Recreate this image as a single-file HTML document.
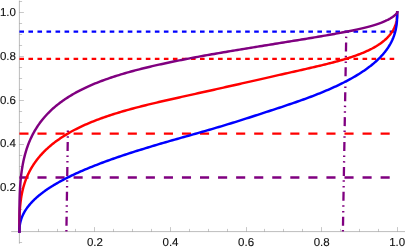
<!DOCTYPE html>
<html><head><meta charset="utf-8"><title>plot</title>
<style>html,body{margin:0;padding:0;background:#fff}svg{display:block;will-change:transform}</style></head>
<body><svg width="407" height="251" viewBox="0 0 407 251">
<rect width="407" height="251" fill="#fff"/>
<g stroke="#858585" stroke-width="0.55" fill="none">
<path d="M11.2 231.6 H405 M19.4 0.5 V243.7"/>
<path stroke-width="0.45" d="M38.5 231.6 v-2.7 M57.5 231.6 v-2.7 M75.5 231.6 v-2.7 M94.5 231.6 v-4.5 M113.5 231.6 v-2.7 M132.5 231.6 v-2.7 M151.5 231.6 v-2.7 M170.5 231.6 v-4.5 M189.5 231.6 v-2.7 M208.5 231.6 v-2.7 M227.5 231.6 v-2.7 M246.5 231.6 v-4.5 M264.5 231.6 v-2.7 M283.5 231.6 v-2.7 M302.5 231.6 v-2.7 M321.5 231.6 v-4.5 M340.5 231.6 v-2.7 M359.5 231.6 v-2.7 M378.5 231.6 v-2.7 M397.5 231.6 v-4.5 M19.4 242.5 h2.7 M19.4 220.5 h2.7 M19.4 209.5 h2.7 M19.4 199.5 h2.7 M19.4 188.5 h4.5 M19.4 177.5 h2.7 M19.4 166.5 h2.7 M19.4 155.5 h2.7 M19.4 144.5 h4.5 M19.4 133.5 h2.7 M19.4 122.5 h2.7 M19.4 111.5 h2.7 M19.4 100.5 h4.5 M19.4 89.5 h2.7 M19.4 78.5 h2.7 M19.4 67.5 h2.7 M19.4 56.5 h4.5 M19.4 45.5 h2.7 M19.4 34.5 h2.7 M19.4 23.5 h2.7 M19.4 12.5 h4.5 M19.4 1.5 h2.7"/>
</g>
<g fill="none" stroke-width="2.3">
<path d="M66.4 231.6 L67.9 130.5" stroke="#800080" stroke-dasharray="1.5 4.4 9 4.3 1.5 4.2"/>
<path d="M342.9 231.6 L346.3 31" stroke="#800080" stroke-dasharray="1.5 4.4 9 4.3 1.5 4.2"/>
<path d="M19.4 31.60 H397.20" stroke="#0000ff" stroke-dasharray="4.6 4.43"/>
<path d="M19.4 58.80 H397.20" stroke="#ff0000" stroke-dasharray="4.6 4.43"/>
<path d="M19.4 133.70 H397.20" stroke="#ff0000" stroke-dasharray="9.1 8.96"/>
<path d="M19.4 177.50 H397.20" stroke="#800080" stroke-dasharray="9.1 8.96"/>
</g>
<g fill="none" stroke-width="2.45" stroke-linejoin="round" stroke-linecap="square">
<path d="M19.40 231.60 L19.40 231.43 L19.40 231.17 L19.40 230.87 L19.40 230.53 L19.40 230.15 L19.40 229.75 L19.40 229.33 L19.40 228.89 L19.40 228.43 L19.40 227.95 L19.40 227.45 L19.40 226.94 L19.41 226.41 L19.41 225.88 L19.41 225.32 L19.41 224.76 L19.42 224.18 L19.42 223.60 L19.43 223.00 L19.44 222.39 L19.44 221.77 L19.45 221.14 L19.46 220.50 L19.47 219.86 L19.49 219.20 L19.50 218.54 L19.52 217.86 L19.54 217.18 L19.56 216.49 L19.58 215.80 L19.60 215.09 L19.63 214.38 L19.66 213.66 L19.70 212.94 L19.73 212.21 L19.77 211.47 L19.81 210.73 L19.86 209.98 L19.91 209.22 L19.96 208.46 L20.02 207.69 L20.08 206.92 L20.15 206.14 L20.22 205.36 L20.30 204.57 L20.38 203.77 L20.47 202.97 L20.56 202.17 L20.66 201.36 L20.76 200.55 L20.87 199.73 L20.99 198.91 L21.11 198.09 L21.24 197.26 L21.38 196.42 L21.53 195.59 L21.68 194.75 L21.84 193.90 L22.01 193.06 L22.19 192.21 L22.38 191.35 L22.57 190.50 L22.78 189.64 L22.99 188.77 L23.21 187.91 L23.45 187.04 L23.69 186.17 L23.95 185.30 L24.21 184.43 L24.49 183.55 L24.77 182.67 L25.07 181.79 L25.39 180.91 L25.71 180.03 L26.04 179.14 L26.39 178.26 L26.75 177.37 L27.13 176.48 L27.52 175.59 L27.92 174.70 L28.33 173.81 L28.76 172.92 L29.21 172.03 L29.67 171.14 L30.14 170.25 L30.63 169.35 L31.14 168.46 L31.66 167.57 L32.19 166.68 L32.75 165.79 L33.32 164.90 L33.90 164.01 L34.51 163.12 L35.13 162.23 L35.77 161.35 L36.42 160.46 L37.09 159.58 L37.79 158.69 L38.50 157.81 L39.23 156.93 L39.97 156.06 L40.74 155.18 L41.53 154.31 L42.33 153.44 L43.16 152.57 L44.00 151.71 L44.86 150.85 L45.75 149.99 L46.65 149.13 L47.58 148.28 L48.52 147.43 L49.49 146.58 L50.48 145.74 L51.48 144.90 L52.51 144.06 L53.56 143.23 L54.64 142.40 L55.73 141.58 L56.84 140.76 L57.98 139.94 L59.14 139.13 L60.31 138.32 L61.52 137.52 L62.74 136.73 L63.98 135.93 L65.25 135.15 L66.54 134.37 L67.85 133.59 L69.18 132.82 L70.53 132.05 L71.91 131.29 L73.31 130.54 L74.73 129.79 L76.17 129.05 L77.63 128.31 L79.12 127.58 L80.62 126.86 L82.15 126.14 L83.70 125.42 L85.27 124.72 L86.87 124.02 L88.48 123.32 L90.11 122.63 L91.77 121.95 L93.45 121.28 L95.14 120.61 L96.86 119.94 L98.60 119.29 L100.36 118.64 L102.13 117.99 L103.93 117.35 L105.75 116.72 L107.58 116.09 L109.44 115.47 L111.31 114.86 L113.20 114.25 L115.12 113.65 L117.04 113.05 L118.99 112.46 L120.95 111.87 L122.93 111.29 L124.93 110.72 L126.95 110.15 L128.98 109.58 L131.02 109.02 L133.08 108.46 L135.16 107.91 L137.25 107.36 L139.36 106.82 L141.48 106.28 L143.61 105.74 L145.76 105.21 L147.92 104.67 L150.09 104.15 L152.27 103.62 L154.47 103.10 L156.67 102.58 L158.89 102.06 L161.12 101.54 L163.36 101.02 L165.60 100.51 L167.86 99.99 L170.12 99.48 L172.40 98.97 L174.68 98.45 L176.96 97.94 L179.26 97.43 L181.56 96.92 L183.87 96.40 L186.18 95.89 L188.49 95.38 L190.81 94.86 L193.14 94.35 L195.46 93.83 L197.79 93.32 L200.13 92.80 L202.46 92.28 L204.80 91.77 L207.13 91.25 L209.47 90.73 L211.80 90.20 L214.14 89.68 L216.47 89.16 L218.81 88.64 L221.14 88.12 L223.46 87.59 L225.79 87.07 L228.11 86.55 L230.42 86.02 L232.73 85.50 L235.04 84.98 L237.34 84.46 L239.64 83.94 L241.92 83.42 L244.20 82.90 L246.48 82.38 L248.74 81.87 L251.00 81.36 L253.24 80.84 L255.48 80.34 L257.71 79.83 L259.93 79.33 L262.13 78.83 L264.33 78.33 L266.51 77.83 L268.68 77.34 L270.84 76.85 L272.99 76.37 L275.12 75.89 L277.24 75.41 L279.35 74.93 L281.44 74.46 L283.52 74.00 L285.58 73.53 L287.62 73.07 L289.65 72.62 L291.67 72.16 L293.67 71.72 L295.65 71.27 L297.61 70.83 L299.56 70.39 L301.48 69.95 L303.40 69.52 L305.29 69.09 L307.16 68.66 L309.02 68.24 L310.85 67.81 L312.67 67.39 L314.47 66.98 L316.24 66.56 L318.00 66.14 L319.74 65.73 L321.46 65.32 L323.15 64.91 L324.83 64.50 L326.49 64.09 L328.12 63.68 L329.73 63.27 L331.33 62.86 L332.90 62.46 L334.45 62.05 L335.98 61.64 L337.48 61.23 L338.97 60.82 L340.43 60.41 L341.87 60.00 L343.29 59.58 L344.69 59.17 L346.07 58.75 L347.42 58.34 L348.75 57.92 L350.06 57.50 L351.35 57.08 L352.62 56.66 L353.86 56.23 L355.08 55.80 L356.29 55.38 L357.46 54.95 L358.62 54.51 L359.76 54.08 L360.87 53.64 L361.96 53.21 L363.04 52.77 L364.09 52.32 L365.12 51.88 L366.12 51.44 L367.11 50.99 L368.08 50.54 L369.02 50.09 L369.95 49.64 L370.85 49.18 L371.74 48.73 L372.60 48.27 L373.44 47.82 L374.27 47.36 L375.07 46.90 L375.86 46.44 L376.63 45.97 L377.37 45.51 L378.10 45.05 L378.81 44.58 L379.51 44.12 L380.18 43.65 L380.83 43.19 L381.47 42.72 L382.09 42.26 L382.70 41.79 L383.28 41.33 L383.85 40.86 L384.41 40.40 L384.94 39.93 L385.46 39.47 L385.97 39.00 L386.46 38.54 L386.93 38.08 L387.39 37.62 L387.84 37.16 L388.27 36.70 L388.68 36.24 L389.08 35.79 L389.47 35.33 L389.85 34.88 L390.21 34.43 L390.56 33.98 L390.89 33.53 L391.21 33.09 L391.53 32.65 L391.83 32.21 L392.11 31.77 L392.39 31.33 L392.65 30.90 L392.91 30.47 L393.15 30.04 L393.39 29.62 L393.61 29.19 L393.82 28.77 L394.03 28.36 L394.22 27.95 L394.41 27.54 L394.59 27.13 L394.76 26.73 L394.92 26.33 L395.07 25.93 L395.22 25.54 L395.36 25.16 L395.49 24.77 L395.61 24.39 L395.73 24.02 L395.84 23.64 L395.94 23.28 L396.04 22.91 L396.13 22.55 L396.22 22.20 L396.30 21.85 L396.38 21.51 L396.45 21.16 L396.52 20.83 L396.58 20.50 L396.64 20.17 L396.69 19.85 L396.74 19.53 L396.79 19.22 L396.83 18.92 L396.87 18.62 L396.90 18.32 L396.94 18.03 L396.97 17.75 L397.00 17.47 L397.02 17.20 L397.04 16.93 L397.06 16.67 L397.08 16.41 L397.10 16.16 L397.11 15.92 L397.13 15.68 L397.14 15.45 L397.15 15.23 L397.16 15.01 L397.16 14.80 L397.17 14.60 L397.18 14.40 L397.18 14.21 L397.19 14.03 L397.19 13.85 L397.19 13.68 L397.19 13.52 L397.20 13.37 L397.20 13.23 L397.20 13.09 L397.20 12.96 L397.20 12.84 L397.20 12.74 L397.20 12.64 L397.20 12.55 L397.20 12.47 L397.20 12.41 L397.20 12.35 L397.20 12.32 L397.20 12.30" stroke="#ff0000"/>
<path d="M19.40 231.60 L19.40 231.59 L19.40 231.57 L19.40 231.53 L19.40 231.48 L19.40 231.43 L19.40 231.36 L19.40 231.28 L19.40 231.19 L19.40 231.10 L19.40 230.99 L19.40 230.88 L19.40 230.76 L19.41 230.62 L19.41 230.49 L19.41 230.34 L19.41 230.18 L19.42 230.02 L19.42 229.85 L19.43 229.67 L19.44 229.48 L19.44 229.29 L19.45 229.09 L19.46 228.88 L19.47 228.67 L19.49 228.44 L19.50 228.21 L19.52 227.98 L19.54 227.73 L19.56 227.48 L19.58 227.22 L19.60 226.96 L19.63 226.69 L19.66 226.41 L19.70 226.12 L19.73 225.83 L19.77 225.53 L19.81 225.23 L19.86 224.92 L19.91 224.60 L19.96 224.28 L20.02 223.95 L20.08 223.61 L20.15 223.27 L20.22 222.92 L20.30 222.57 L20.38 222.21 L20.47 221.84 L20.56 221.47 L20.66 221.09 L20.76 220.71 L20.87 220.32 L20.99 219.92 L21.11 219.52 L21.24 219.12 L21.38 218.71 L21.53 218.29 L21.68 217.87 L21.84 217.44 L22.01 217.00 L22.19 216.57 L22.38 216.12 L22.57 215.67 L22.78 215.22 L22.99 214.76 L23.21 214.30 L23.45 213.83 L23.69 213.35 L23.95 212.87 L24.21 212.39 L24.49 211.90 L24.77 211.41 L25.07 210.91 L25.39 210.41 L25.71 209.90 L26.04 209.39 L26.39 208.87 L26.75 208.35 L27.13 207.83 L27.52 207.30 L27.92 206.76 L28.33 206.23 L28.76 205.69 L29.21 205.14 L29.67 204.59 L30.14 204.04 L30.63 203.48 L31.14 202.92 L31.66 202.35 L32.19 201.78 L32.75 201.21 L33.32 200.64 L33.90 200.06 L34.51 199.48 L35.13 198.89 L35.77 198.30 L36.42 197.71 L37.09 197.11 L37.79 196.51 L38.50 195.91 L39.23 195.31 L39.97 194.70 L40.74 194.09 L41.53 193.48 L42.33 192.86 L43.16 192.24 L44.00 191.62 L44.86 191.00 L45.75 190.37 L46.65 189.74 L47.58 189.11 L48.52 188.48 L49.49 187.84 L50.48 187.21 L51.48 186.57 L52.51 185.93 L53.56 185.28 L54.64 184.64 L55.73 183.99 L56.84 183.34 L57.98 182.69 L59.14 182.04 L60.31 181.39 L61.52 180.73 L62.74 180.08 L63.98 179.42 L65.25 178.76 L66.54 178.10 L67.85 177.44 L69.18 176.78 L70.53 176.12 L71.91 175.45 L73.31 174.79 L74.73 174.12 L76.17 173.46 L77.63 172.79 L79.12 172.13 L80.62 171.46 L82.15 170.79 L83.70 170.12 L85.27 169.45 L86.87 168.78 L88.48 168.12 L90.11 167.45 L91.77 166.78 L93.45 166.11 L95.14 165.44 L96.86 164.77 L98.60 164.10 L100.36 163.43 L102.13 162.76 L103.93 162.09 L105.75 161.42 L107.58 160.75 L109.44 160.08 L111.31 159.42 L113.20 158.75 L115.12 158.08 L117.04 157.41 L118.99 156.75 L120.95 156.08 L122.93 155.42 L124.93 154.75 L126.95 154.09 L128.98 153.43 L131.02 152.76 L133.08 152.10 L135.16 151.44 L137.25 150.78 L139.36 150.12 L141.48 149.46 L143.61 148.80 L145.76 148.14 L147.92 147.48 L150.09 146.83 L152.27 146.17 L154.47 145.51 L156.67 144.86 L158.89 144.20 L161.12 143.55 L163.36 142.90 L165.60 142.24 L167.86 141.59 L170.12 140.94 L172.40 140.29 L174.68 139.63 L176.96 138.98 L179.26 138.33 L181.56 137.68 L183.87 137.02 L186.18 136.37 L188.49 135.71 L190.81 135.06 L193.14 134.40 L195.46 133.74 L197.79 133.08 L200.13 132.42 L202.46 131.75 L204.80 131.08 L207.13 130.41 L209.47 129.73 L211.80 129.06 L214.14 128.37 L216.47 127.69 L218.81 126.99 L221.14 126.30 L223.46 125.60 L225.79 124.90 L228.11 124.19 L230.42 123.48 L232.73 122.77 L235.04 122.05 L237.34 121.33 L239.64 120.61 L241.92 119.88 L244.20 119.16 L246.48 118.43 L248.74 117.71 L251.00 116.98 L253.24 116.26 L255.48 115.53 L257.71 114.81 L259.93 114.09 L262.13 113.37 L264.33 112.66 L266.51 111.95 L268.68 111.24 L270.84 110.53 L272.99 109.83 L275.12 109.13 L277.24 108.43 L279.35 107.73 L281.44 107.04 L283.52 106.34 L285.58 105.65 L287.62 104.96 L289.65 104.28 L291.67 103.59 L293.67 102.90 L295.65 102.22 L297.61 101.53 L299.56 100.85 L301.48 100.16 L303.40 99.48 L305.29 98.79 L307.16 98.10 L309.02 97.41 L310.85 96.73 L312.67 96.04 L314.47 95.35 L316.24 94.65 L318.00 93.96 L319.74 93.27 L321.46 92.57 L323.15 91.88 L324.83 91.18 L326.49 90.48 L328.12 89.78 L329.73 89.08 L331.33 88.38 L332.90 87.68 L334.45 86.97 L335.98 86.27 L337.48 85.56 L338.97 84.86 L340.43 84.15 L341.87 83.44 L343.29 82.73 L344.69 82.02 L346.07 81.31 L347.42 80.60 L348.75 79.89 L350.06 79.18 L351.35 78.47 L352.62 77.76 L353.86 77.05 L355.08 76.33 L356.29 75.62 L357.46 74.91 L358.62 74.20 L359.76 73.49 L360.87 72.77 L361.96 72.06 L363.04 71.35 L364.09 70.64 L365.12 69.93 L366.12 69.22 L367.11 68.51 L368.08 67.80 L369.02 67.10 L369.95 66.39 L370.85 65.69 L371.74 64.98 L372.60 64.28 L373.44 63.58 L374.27 62.88 L375.07 62.18 L375.86 61.48 L376.63 60.78 L377.37 60.09 L378.10 59.39 L378.81 58.70 L379.51 58.01 L380.18 57.33 L380.83 56.64 L381.47 55.96 L382.09 55.28 L382.70 54.60 L383.28 53.92 L383.85 53.25 L384.41 52.58 L384.94 51.91 L385.46 51.24 L385.97 50.58 L386.46 49.92 L386.93 49.26 L387.39 48.61 L387.84 47.96 L388.27 47.31 L388.68 46.66 L389.08 46.02 L389.47 45.38 L389.85 44.75 L390.21 44.12 L390.56 43.49 L390.89 42.86 L391.21 42.24 L391.53 41.63 L391.83 41.01 L392.11 40.40 L392.39 39.80 L392.65 39.20 L392.91 38.60 L393.15 38.01 L393.39 37.42 L393.61 36.84 L393.82 36.26 L394.03 35.68 L394.22 35.11 L394.41 34.54 L394.59 33.98 L394.76 33.42 L394.92 32.87 L395.07 32.32 L395.22 31.78 L395.36 31.24 L395.49 30.71 L395.61 30.18 L395.73 29.66 L395.84 29.14 L395.94 28.63 L396.04 28.12 L396.13 27.62 L396.22 27.13 L396.30 26.64 L396.38 26.15 L396.45 25.67 L396.52 25.20 L396.58 24.73 L396.64 24.27 L396.69 23.81 L396.74 23.37 L396.79 22.92 L396.83 22.49 L396.87 22.05 L396.90 21.63 L396.94 21.21 L396.97 20.80 L397.00 20.40 L397.02 20.00 L397.04 19.61 L397.06 19.23 L397.08 18.85 L397.10 18.48 L397.11 18.12 L397.13 17.77 L397.14 17.42 L397.15 17.08 L397.16 16.75 L397.16 16.43 L397.17 16.12 L397.18 15.81 L397.18 15.52 L397.19 15.23 L397.19 14.96 L397.19 14.69 L397.19 14.43 L397.20 14.18 L397.20 13.95 L397.20 13.72 L397.20 13.51 L397.20 13.31 L397.20 13.12 L397.20 12.95 L397.20 12.79 L397.20 12.65 L397.20 12.52 L397.20 12.42 L397.20 12.34 L397.20 12.30" stroke="#0000ff"/>
<path d="M19.40 231.60 L19.40 230.44 L19.40 229.40 L19.40 228.39 L19.40 227.39 L19.40 226.40 L19.40 225.41 L19.40 224.42 L19.40 223.43 L19.40 222.43 L19.40 221.44 L19.40 220.44 L19.40 219.44 L19.41 218.44 L19.41 217.43 L19.41 216.42 L19.41 215.40 L19.42 214.39 L19.42 213.37 L19.43 212.34 L19.44 211.31 L19.44 210.28 L19.45 209.25 L19.46 208.21 L19.47 207.17 L19.49 206.12 L19.50 205.08 L19.52 204.02 L19.54 202.97 L19.56 201.91 L19.58 200.85 L19.60 199.78 L19.63 198.72 L19.66 197.65 L19.70 196.57 L19.73 195.49 L19.77 194.41 L19.81 193.33 L19.86 192.25 L19.91 191.16 L19.96 190.07 L20.02 188.98 L20.08 187.88 L20.15 186.78 L20.22 185.68 L20.30 184.58 L20.38 183.48 L20.47 182.37 L20.56 181.26 L20.66 180.15 L20.76 179.04 L20.87 177.92 L20.99 176.81 L21.11 175.69 L21.24 174.57 L21.38 173.45 L21.53 172.33 L21.68 171.21 L21.84 170.09 L22.01 168.97 L22.19 167.84 L22.38 166.72 L22.57 165.59 L22.78 164.47 L22.99 163.34 L23.21 162.21 L23.45 161.09 L23.69 159.96 L23.95 158.84 L24.21 157.71 L24.49 156.59 L24.77 155.46 L25.07 154.34 L25.39 153.22 L25.71 152.10 L26.04 150.98 L26.39 149.86 L26.75 148.74 L27.13 147.62 L27.52 146.51 L27.92 145.40 L28.33 144.29 L28.76 143.18 L29.21 142.08 L29.67 140.98 L30.14 139.88 L30.63 138.78 L31.14 137.69 L31.66 136.60 L32.19 135.51 L32.75 134.43 L33.32 133.35 L33.90 132.27 L34.51 131.20 L35.13 130.14 L35.77 129.07 L36.42 128.02 L37.09 126.96 L37.79 125.91 L38.50 124.87 L39.23 123.83 L39.97 122.80 L40.74 121.77 L41.53 120.75 L42.33 119.73 L43.16 118.72 L44.00 117.71 L44.86 116.72 L45.75 115.72 L46.65 114.74 L47.58 113.76 L48.52 112.78 L49.49 111.82 L50.48 110.86 L51.48 109.90 L52.51 108.96 L53.56 108.02 L54.64 107.09 L55.73 106.17 L56.84 105.25 L57.98 104.34 L59.14 103.44 L60.31 102.55 L61.52 101.66 L62.74 100.78 L63.98 99.91 L65.25 99.05 L66.54 98.19 L67.85 97.35 L69.18 96.51 L70.53 95.68 L71.91 94.86 L73.31 94.04 L74.73 93.24 L76.17 92.44 L77.63 91.65 L79.12 90.87 L80.62 90.09 L82.15 89.33 L83.70 88.57 L85.27 87.82 L86.87 87.08 L88.48 86.34 L90.11 85.62 L91.77 84.90 L93.45 84.19 L95.14 83.49 L96.86 82.80 L98.60 82.11 L100.36 81.43 L102.13 80.76 L103.93 80.10 L105.75 79.44 L107.58 78.79 L109.44 78.15 L111.31 77.51 L113.20 76.89 L115.12 76.27 L117.04 75.65 L118.99 75.05 L120.95 74.45 L122.93 73.85 L124.93 73.27 L126.95 72.68 L128.98 72.11 L131.02 71.54 L133.08 70.98 L135.16 70.42 L137.25 69.87 L139.36 69.33 L141.48 68.79 L143.61 68.26 L145.76 67.73 L147.92 67.21 L150.09 66.69 L152.27 66.18 L154.47 65.67 L156.67 65.17 L158.89 64.67 L161.12 64.18 L163.36 63.69 L165.60 63.20 L167.86 62.72 L170.12 62.25 L172.40 61.78 L174.68 61.31 L176.96 60.85 L179.26 60.39 L181.56 59.94 L183.87 59.48 L186.18 59.04 L188.49 58.59 L190.81 58.15 L193.14 57.71 L195.46 57.28 L197.79 56.85 L200.13 56.42 L202.46 56.00 L204.80 55.58 L207.13 55.16 L209.47 54.75 L211.80 54.33 L214.14 53.92 L216.47 53.52 L218.81 53.12 L221.14 52.71 L223.46 52.32 L225.79 51.92 L228.11 51.53 L230.42 51.14 L232.73 50.75 L235.04 50.37 L237.34 49.98 L239.64 49.60 L241.92 49.22 L244.20 48.85 L246.48 48.48 L248.74 48.11 L251.00 47.74 L253.24 47.37 L255.48 47.01 L257.71 46.64 L259.93 46.29 L262.13 45.93 L264.33 45.57 L266.51 45.22 L268.68 44.87 L270.84 44.52 L272.99 44.18 L275.12 43.83 L277.24 43.49 L279.35 43.15 L281.44 42.81 L283.52 42.48 L285.58 42.14 L287.62 41.81 L289.65 41.48 L291.67 41.15 L293.67 40.83 L295.65 40.51 L297.61 40.19 L299.56 39.87 L301.48 39.55 L303.40 39.24 L305.29 38.92 L307.16 38.61 L309.02 38.31 L310.85 38.00 L312.67 37.70 L314.47 37.39 L316.24 37.09 L318.00 36.80 L319.74 36.50 L321.46 36.21 L323.15 35.91 L324.83 35.62 L326.49 35.34 L328.12 35.05 L329.73 34.77 L331.33 34.48 L332.90 34.20 L334.45 33.92 L335.98 33.65 L337.48 33.37 L338.97 33.10 L340.43 32.83 L341.87 32.56 L343.29 32.29 L344.69 32.02 L346.07 31.75 L347.42 31.49 L348.75 31.23 L350.06 30.96 L351.35 30.70 L352.62 30.44 L353.86 30.18 L355.08 29.93 L356.29 29.67 L357.46 29.41 L358.62 29.16 L359.76 28.90 L360.87 28.65 L361.96 28.39 L363.04 28.14 L364.09 27.89 L365.12 27.64 L366.12 27.38 L367.11 27.13 L368.08 26.88 L369.02 26.63 L369.95 26.38 L370.85 26.13 L371.74 25.87 L372.60 25.62 L373.44 25.37 L374.27 25.12 L375.07 24.87 L375.86 24.62 L376.63 24.37 L377.37 24.12 L378.10 23.87 L378.81 23.63 L379.51 23.38 L380.18 23.13 L380.83 22.88 L381.47 22.64 L382.09 22.39 L382.70 22.15 L383.28 21.91 L383.85 21.66 L384.41 21.42 L384.94 21.18 L385.46 20.95 L385.97 20.71 L386.46 20.48 L386.93 20.25 L387.39 20.02 L387.84 19.79 L388.27 19.57 L388.68 19.34 L389.08 19.13 L389.47 18.91 L389.85 18.70 L390.21 18.48 L390.56 18.28 L390.89 18.07 L391.21 17.87 L391.53 17.68 L391.83 17.48 L392.11 17.29 L392.39 17.11 L392.65 16.92 L392.91 16.75 L393.15 16.57 L393.39 16.40 L393.61 16.23 L393.82 16.07 L394.03 15.91 L394.22 15.76 L394.41 15.61 L394.59 15.46 L394.76 15.32 L394.92 15.18 L395.07 15.05 L395.22 14.92 L395.36 14.79 L395.49 14.67 L395.61 14.55 L395.73 14.43 L395.84 14.32 L395.94 14.22 L396.04 14.11 L396.13 14.02 L396.22 13.92 L396.30 13.83 L396.38 13.74 L396.45 13.65 L396.52 13.57 L396.58 13.49 L396.64 13.42 L396.69 13.35 L396.74 13.28 L396.79 13.21 L396.83 13.15 L396.87 13.09 L396.90 13.03 L396.94 12.98 L396.97 12.93 L397.00 12.88 L397.02 12.83 L397.04 12.79 L397.06 12.75 L397.08 12.71 L397.10 12.67 L397.11 12.64 L397.13 12.60 L397.14 12.57 L397.15 12.54 L397.16 12.52 L397.16 12.49 L397.17 12.47 L397.18 12.45 L397.18 12.43 L397.19 12.41 L397.19 12.39 L397.19 12.38 L397.19 12.37 L397.20 12.36 L397.20 12.34 L397.20 12.34 L397.20 12.33 L397.20 12.32 L397.20 12.31 L397.20 12.31 L397.20 12.31 L397.20 12.30 L397.20 12.30 L397.20 12.30 L397.20 12.30 L397.20 12.30" stroke="#800080"/>
</g>
<g text-rendering="geometricPrecision" font-family="Liberation Sans, sans-serif" font-size="11.5" fill="#111" stroke="#111" stroke-width="0.12">
<text x="94.96" y="245.5" text-anchor="middle">0.2</text>
<text x="170.52" y="245.5" text-anchor="middle">0.4</text>
<text x="246.08" y="245.5" text-anchor="middle">0.6</text>
<text x="321.64" y="245.5" text-anchor="middle">0.8</text>
<text x="397.20" y="245.5" text-anchor="middle">1.0</text>
<text x="15.9" y="191.34" text-anchor="end">0.2</text>
<text x="15.9" y="147.48" text-anchor="end">0.4</text>
<text x="15.9" y="103.62" text-anchor="end">0.6</text>
<text x="15.9" y="59.76" text-anchor="end">0.8</text>
<text x="15.9" y="15.90" text-anchor="end">1.0</text>
</g>
</svg></body></html>
